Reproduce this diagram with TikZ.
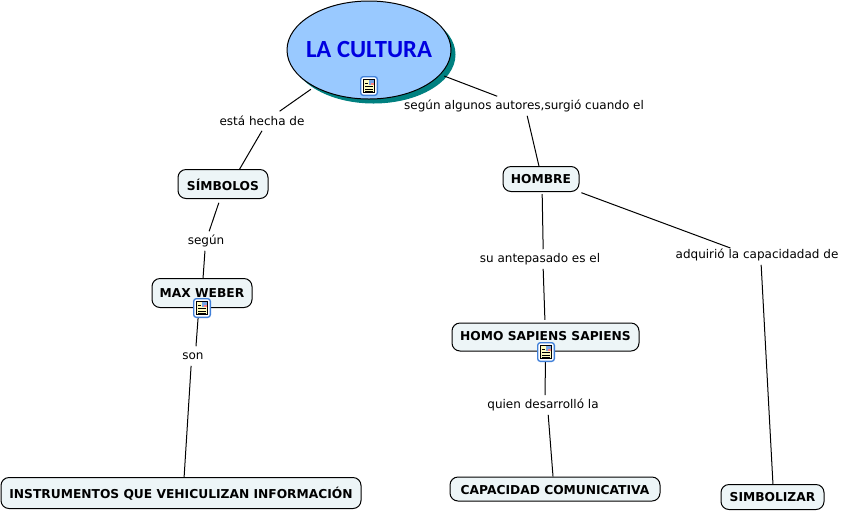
\documentclass[tikz,border=0pt]{standalone}
\usepackage{fontspec}
\setmainfont{DejaVu Sans}
\newfontfamily\titlefont{Carlito}
\usetikzlibrary{arrows,positioning}
\usetikzlibrary{shapes.geometric}
\definecolor{boxfill}{rgb}{0.93, 0.96, 0.97}
\definecolor{skyfill}{rgb}{0.60, 0.79, 1}
\definecolor{tealshade}{rgb}{0, 0.5, 0.5}
\definecolor{titleblue}{rgb}{0, 0, 0.88}
\definecolor{iconblue}{rgb}{0.25, 0.5, 0.85}
\tikzset{
	concept/.style={draw=black,fill=boxfill,line width=0.75pt,rounded corners=6pt,inner sep=0pt,font=\fontsize{9.2}{11}\selectfont\bfseries},
	linking/.style={inner sep=0pt,minimum height=14.25pt,font=\fontsize{9}{11}\selectfont},
	link/.style={draw=black,line width=0.75pt}
}
% small note icon, drawn on top of the connectors
\newcommand{\noteicon}[2]{
	\node (#2) at (#1) [draw=iconblue,fill=white,line width=1pt,rounded corners=2pt,minimum width=12.5pt,minimum height=14pt,inner sep=0pt] {};
	\begin{scope}[shift={(#1)}]
		\fill [yellow!25] (-5.5,-6.5) rectangle (5.5,6.5);
		\draw [black,line width=0.5pt] (-5.5,-6.5) rectangle (5.5,6.5);
		\fill [iconblue!70] (0,-6) rectangle (5,-1);
		\fill [red!50] (2,-3) rectangle (5,-1);
		\foreach \ypos in {-3,0,3,5} {\draw [black,line width=0.5pt] (-4,\ypos) -- (\ifnum\ypos<0 -1\else 4\fi,\ypos);}
	\end{scope}
}
\begin{document}
\begin{tikzpicture}[x=0.75pt,y=0.75pt,yscale=-1,xscale=1]
	\useasboundingbox (0,0) rectangle (846,512);

	%Shape: main ellipse
	\fill [tealshade] (373.5,54.5) ellipse (82 and 49);
	\node (cultura) at (369,50) [ellipse,draw=black,fill=skyfill,line width=0.75pt,minimum width=123pt,minimum height=73.5pt,inner sep=0pt] {};
	\node (titulo) at (369,49) [text=titleblue,inner sep=0pt,font=\titlefont\fontsize{18.5}{20}\selectfont\bfseries] {LA CULTURA};

	% Concept boxes
	\node (simbolos) at (223,184) [concept,minimum width=67.5pt,minimum height=21.75pt,text height=10pt] {SÍMBOLOS};
	\node (weber) at (202,293) [concept,minimum width=75pt,minimum height=21.75pt] {MAX WEBER};
	\node (instrumentos) at (181,493) [concept,minimum width=270pt,minimum height=23.25pt,text height=10pt] {INSTRUMENTOS QUE VEHICULIZAN INFORMACIÓN};
	\node (hombre) at (541,179) [concept,minimum width=57pt,minimum height=18.75pt] {HOMBRE};
	\node (homo) at (545.5,337) [concept,minimum width=140.25pt,minimum height=21pt,text depth=2pt] {HOMO SAPIENS SAPIENS};
	\node (capacidad) at (555,489) [concept,minimum width=157.5pt,minimum height=18pt,text height=8.5pt] {CAPACIDAD COMUNICATIVA};
	\node (simbolizar) at (772.5,497) [concept,minimum width=77.25pt,minimum height=18.75pt] {SIMBOLIZAR};

	% Linking phrases
	\node (hecha) at (262,121) [linking] {está hecha de};
	\node (segun) at (206,241) [linking] {según};
	\node (son) at (193,356) [linking] {son};
	\node (autores) at (524,106) [linking] {según algunos autores,surgió cuando el};
	\node (antepasado) at (540,259) [linking] {su antepasado es el};
	\node (desarrollo) at (543,405) [linking] {quien desarrolló la};
	\node (adquirio) at (757,255) [linking] {adquirió la capacidadad de};

	% Connectors
	\draw [link,shorten <=3pt] (cultura.214) -- (hecha.29);
	\draw [link] (hecha.south) -- (simbolos.42);
	\draw [link,shorten <=3pt] (simbolos.259) -- (segun.72);
	\draw [link] (segun.264) -- (weber.86);
	\draw [link] (weber.258) -- (son.73);
	\draw [link] (son.259) -- (instrumentos.79);
	\draw [link,shorten <=3pt] (cultura.-19) -- (autores.160);
	\draw [link] (autores.-72) -- (hombre.99);
	\draw [link,shorten <=1.5pt] (hombre.-85) -- (antepasado.72);
	\draw [link,shorten >=2pt] (antepasado.-72) -- (homo.92);
	\draw [link] (homo.-90) -- (desarrollo.78);
	\draw [link] (desarrollo.-62) -- (capacidad.99);
	\draw [link,shorten <=1.5pt,shorten >=-6pt] (hombre.south east) -- (adquirio.164);
	\draw [link] (adquirio.-67) -- (simbolizar.88);

	% Note icons
	\noteicon{369,86}{notacultura}
	\noteicon{202,308}{notaweber}
	\noteicon{546,352}{notahomo}
\end{tikzpicture}
\end{document}
